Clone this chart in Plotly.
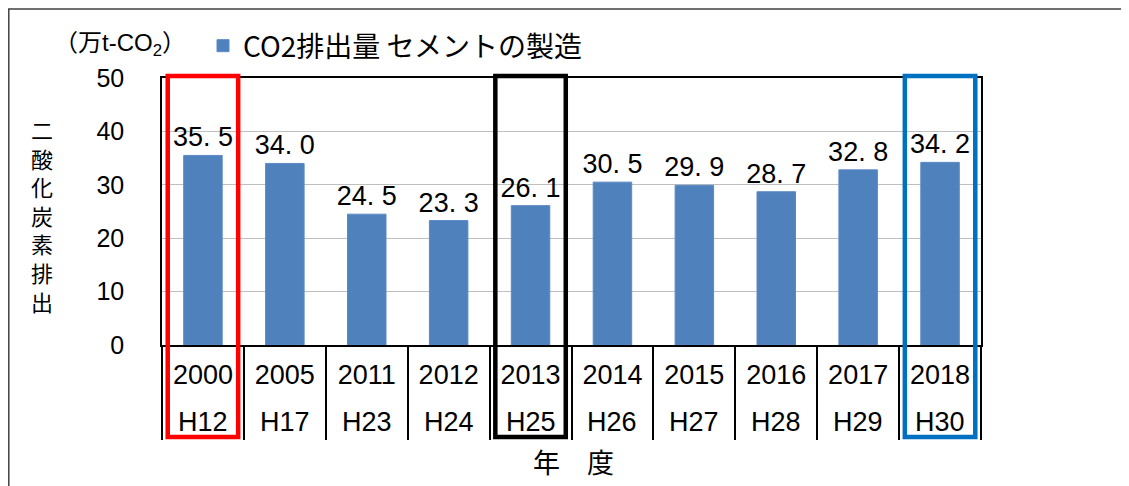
import plotly.graph_objects as go

# ---- data ----
years = ["2000", "2005", "2011", "2012", "2013", "2014", "2015", "2016", "2017", "2018"]
eras = ["H12", "H17", "H23", "H24", "H25", "H26", "H27", "H28", "H29", "H30"]
emissions = [35.5, 34.0, 24.5, 23.3, 26.1, 30.5, 29.9, 28.7, 32.8, 34.2]
series_name = "CO2排出量 セメントの製造"
unit_label = "（万t-CO<sub>2</sub>）"
y_title = "二酸化炭素排出"
x_title = "年　度"
highlight_years = ["2000", "2013", "2018"]
highlight_colors = ["#FF0000", "#000000", "#0070C0"]
y_ticks = [0, 10, 20, 30, 40, 50]

# ---- layout constants (page pixels; page body has an 8px default margin) ----
OFF = 8
PAGE_W, PAGE_H = 1129, 486
W, H = PAGE_W - OFF, PAGE_H - OFF
L, R, T, B = 162, 981, 78, 345          # plot area in page pixels
PW, PH = R - L, B - T

NUM = "Liberation Sans, Arial, Noto Sans CJK JP"
JP = "Noto Sans CJK JP"


def px_x(p):
    return (p - L) / PW


def px_y(p):
    return (B - p) / PH


labels = [f"{v:.1f}".replace(".", ". ") for v in emissions]

fig = go.Figure()
fig.add_trace(go.Bar(
    x=years,
    y=emissions,
    name=series_name,
    width=0.47,
    marker=dict(color="#4F81BD", line=dict(color="#5A8AC6", width=1)),
    text=labels,
    textposition="outside",
    constraintext="none",
    cliponaxis=False,
    textfont=dict(family=NUM, size=27, color="#000000"),
    showlegend=True,
))

TICKLEN = 93

fig.update_layout(
    width=W, height=H,
    margin=dict(l=L - OFF, r=W - (R - OFF), t=T - OFF, b=H - (B - OFF)),
    paper_bgcolor="white", plot_bgcolor="white",
    showlegend=True,
    legend=dict(
        x=px_x(203), y=px_y(21), xanchor="left", yanchor="top",
        orientation="h",
        font=dict(family=JP, size=28, color="#000000"),
        bgcolor="rgba(0,0,0,0)",
        itemwidth=30,
    ),
    xaxis=dict(
        type="category",
        categoryorder="array",
        categoryarray=years,
        range=[-0.5, len(years) - 0.5],
        tickson="boundaries",
        ticks="outside",
        ticklen=TICKLEN,
        tickwidth=1.5,
        tickcolor="#000000",
        ticklabelstandoff=5,
        tickfont=dict(family=NUM, size=27, color="#000000"),
        showline=True, linecolor="#000000", linewidth=1.5, mirror=True,
        showgrid=False, zeroline=False,
    ),
    yaxis=dict(
        range=[0, 50],
        tickvals=y_ticks,
        ticks="",
        ticklabelstandoff=31,
        tickfont=dict(family=NUM, size=25, color="#000000"),
        showline=True, linecolor="#000000", linewidth=1.5, mirror=True,
        showgrid=True, gridcolor="#BFBFBF", gridwidth=1,
        zeroline=False,
    ),
)

# era labels (second row of category labels)
for i, e in enumerate(eras):
    fig.add_annotation(
        x=i, xref="x", y=px_y(422), yref="paper",
        text=e, showarrow=False, xanchor="center", yanchor="middle",
        font=dict(family=NUM, size=27, color="#000000"),
    )

# highlight frames around selected categories
for yr, col in zip(highlight_years, highlight_colors):
    i = years.index(yr)
    fig.add_shape(
        type="rect", xref="x", yref="paper",
        x0=i - 0.43, x1=i + 0.43, y0=px_y(437), y1=px_y(76),
        line=dict(color=col, width=4.5), fillcolor="rgba(0,0,0,0)",
        layer="above",
    )

# unit label
fig.add_annotation(
    x=px_x(120), xref="paper", y=px_y(45), yref="paper",
    text=unit_label, showarrow=False, xanchor="center", yanchor="middle",
    font=dict(family=NUM, size=24, color="#000000"),
)

# vertical y-axis title, one character per line
fig.add_annotation(
    x=px_x(42), xref="paper", y=px_y(215), yref="paper",
    text="<br>".join(y_title), showarrow=False,
    xanchor="center", yanchor="middle", align="center",
    font=dict(family=JP, size=22, color="#000000"),
)

# x-axis title
fig.add_annotation(
    x=px_x(573), xref="paper", y=px_y(461), yref="paper",
    text=x_title, showarrow=False, xanchor="center", yanchor="middle",
    height=30,
    font=dict(family=JP, size=27, color="#000000"),
)

# outer chart frame (top and left edges visible)
fig.add_shape(type="line", xref="paper", yref="paper",
              x0=px_x(OFF), x1=px_x(PAGE_W + 10), y0=px_y(9), y1=px_y(9),
              line=dict(color="#404040", width=1.5))
fig.add_shape(type="line", xref="paper", yref="paper",
              x0=px_x(OFF + 0.8), x1=px_x(OFF + 0.8), y0=px_y(9), y1=px_y(PAGE_H + 10),
              line=dict(color="#404040", width=1.5))

fig.write_html("out.html")
